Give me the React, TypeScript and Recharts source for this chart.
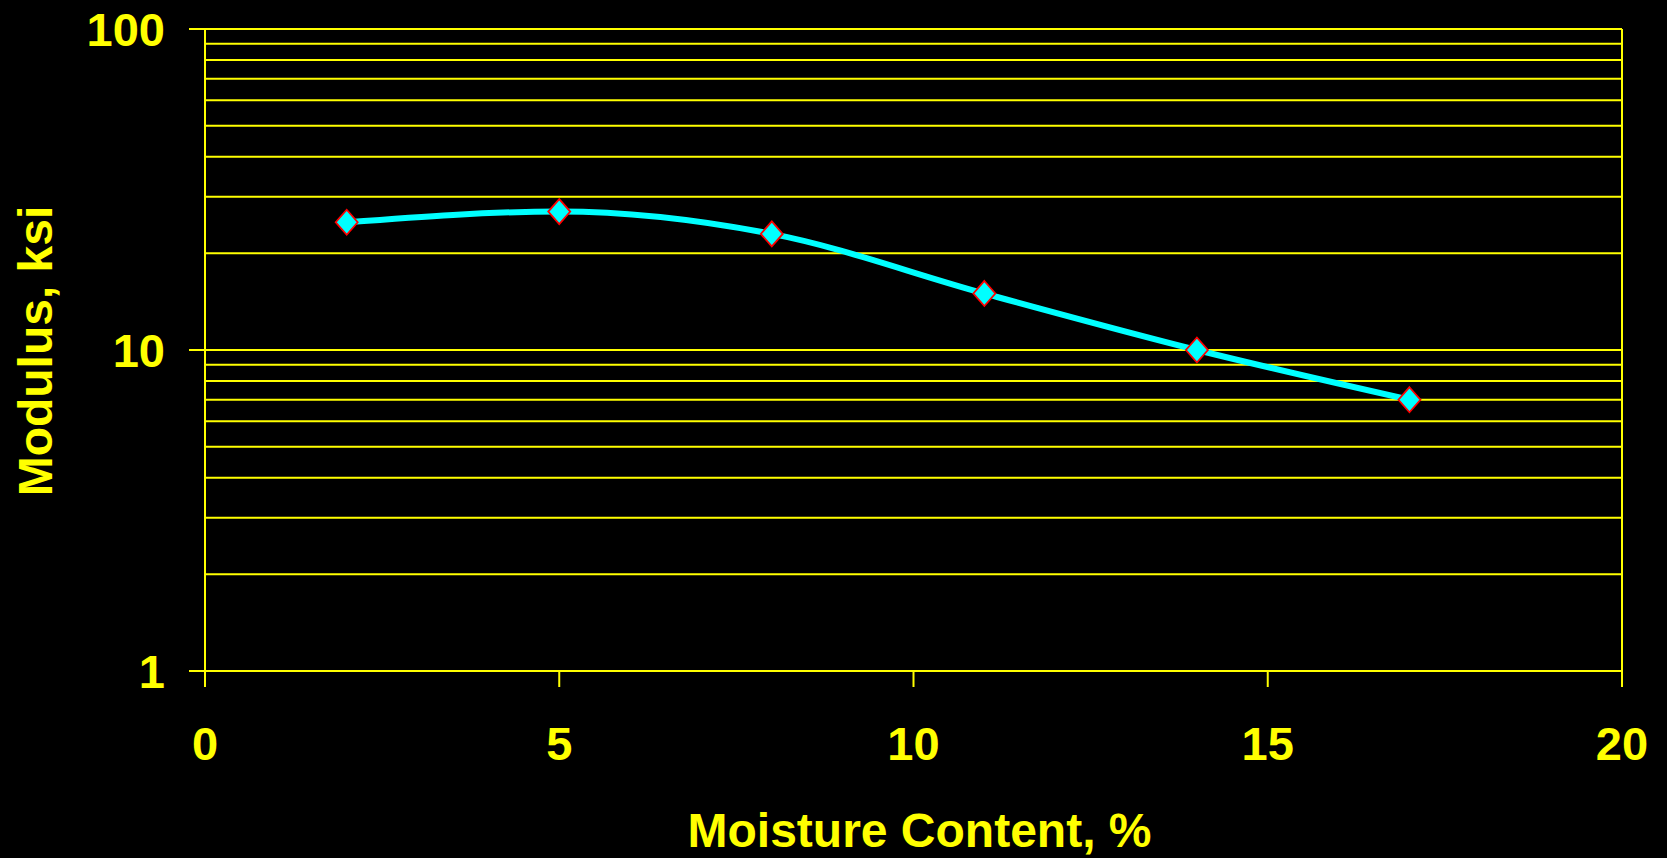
import {
  LineChart,
  Line,
  XAxis,
  YAxis,
  ReferenceLine,
  Label,
} from "recharts";

const moisture = [2, 5, 8, 11, 14, 17];
const modulus = [25, 27, 23, 15, 10, 7];
const xTicks = [0, 5, 10, 15, 20];
const yTicks = [1, 10, 100];
const gridValues = [2, 3, 4, 5, 6, 7, 8, 9, 10, 20, 30, 40, 50, 60, 70, 80, 90, 100];

const data = moisture.map((m, i) => ({ moisture: m, modulus: modulus[i] }));

const YELLOW = "#FFFF00";
const FONT = "'Liberation Sans', Arial, sans-serif";

const Diamond = (props: any) => {
  const { cx, cy } = props;
  if (cx == null || cy == null) return null;
  return (
    <path
      d={`M${cx},${cy - 12.5} L${cx + 11},${cy} L${cx},${cy + 12.5} L${cx - 11},${cy} Z`}
      fill="#00FFFF"
      stroke="#FF0000"
      strokeWidth={1.8}
    />
  );
};

export default function App() {
  const tickStyle = { fill: YELLOW, fontSize: 47, fontWeight: "bold", fontFamily: FONT };
  return (
    <div style={{ position: "fixed", left: 0, top: 0, width: 1667, height: 858, background: "#000" }}>
      <LineChart
        width={1667}
        height={858}
        data={data}
        margin={{ top: 29, right: 45, left: 0, bottom: 0 }}
      >
        {gridValues.map((v) => (
          <ReferenceLine key={v} y={v} stroke={YELLOW} strokeWidth={2} />
        ))}
        <ReferenceLine x={20} stroke={YELLOW} strokeWidth={2} />
        <XAxis
          dataKey="moisture"
          type="number"
          domain={[0, 20]}
          ticks={xTicks}
          height={187}
          axisLine={{ stroke: YELLOW, strokeWidth: 2 }}
          tickLine={{ stroke: YELLOW, strokeWidth: 2 }}
          tickSize={16}
          tickMargin={40}
          tick={tickStyle}
        >
          <Label
            content={(p: any) => {
              const vb = p.viewBox;
              return (
                <text
                  x={vb.x + vb.width / 2 + 6}
                  y={847}
                  textAnchor="middle"
                  fill={YELLOW}
                  fontSize={48}
                  fontWeight="bold"
                  fontFamily={FONT}
                >
                  Moisture Content, %
                </text>
              );
            }}
          />
        </XAxis>
        <YAxis
          type="number"
          scale="log"
          domain={[1, 100]}
          ticks={yTicks}
          allowDataOverflow
          width={205}
          axisLine={{ stroke: YELLOW, strokeWidth: 2 }}
          tickLine={{ stroke: YELLOW, strokeWidth: 2 }}
          tickSize={16}
          tickMargin={24}
          tick={tickStyle}
        >
          <Label
            content={(p: any) => {
              const vb = p.viewBox;
              const cy = vb.y + vb.height / 2 + 1;
              return (
                <text
                  x={52}
                  y={cy}
                  transform={`rotate(-90, 52, ${cy})`}
                  textAnchor="middle"
                  fill={YELLOW}
                  fontSize={48}
                  fontWeight="bold"
                  fontFamily={FONT}
                >
                  Modulus, ksi
                </text>
              );
            }}
          />
        </YAxis>
        <Line
          type="monotone"
          dataKey="modulus"
          stroke="#00FFFF"
          strokeWidth={6}
          dot={<Diamond />}
          activeDot={false}
          isAnimationActive={false}
        />
      </LineChart>
    </div>
  );
}
